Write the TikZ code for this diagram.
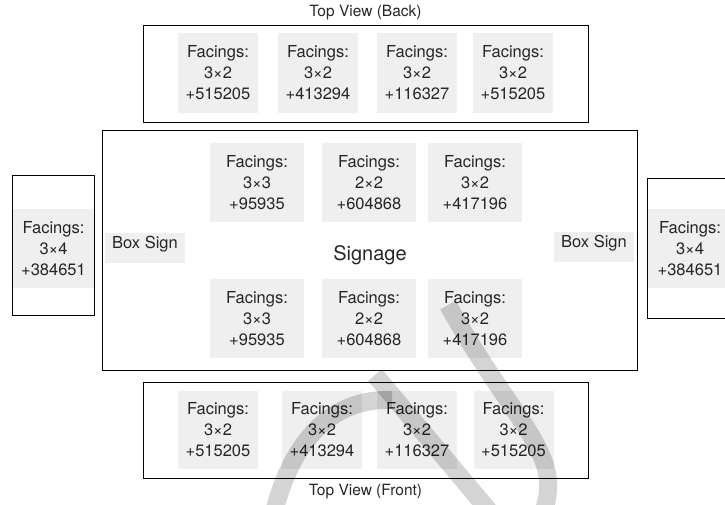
\documentclass[tikz,border=0pt]{standalone}
\usepackage{fontspec}
\setmainfont{TeX Gyre Heros}
\usepackage{xcolor}
\usetikzlibrary{positioning}
\definecolor{facefill}{HTML}{EFEFEF}
\definecolor{inkgray}{HTML}{262626}

\begin{document}
\begin{tikzpicture}[
  x=1pt,y=-1pt,
  every node/.style={font=\fontsize{16.5}{21}\selectfont,align=center,text=inkgray},
  panel/.style={draw=black,line width=0.9pt,inner sep=0pt},
  facing/.style={fill=facefill,minimum width=80pt,minimum height=80pt,inner sep=0pt},
  signbox/.style={fill=facefill,minimum width=80pt,minimum height=30pt,inner sep=0pt,text depth=12pt},
  caption/.style={font=\fontsize{15.5}{17}\selectfont},
  swoosh/.style={line width=18pt,black,opacity=0.17}
]
\path[use as bounding box] (0,0) rectangle (725,505);
\clip (0,0) rectangle (725,505);

% shelves
\node[panel,minimum width=445pt,minimum height=97pt] (back) at (365.5,73.5) {};
\node[panel,minimum width=445pt,minimum height=96pt] (front) at (365.5,430) {};
\node[panel,minimum width=535pt,minimum height=240pt] (table) at (369.5,250) {};
\node[panel,minimum width=82pt,minimum height=140pt] (lend) at (53,245) {};
\node[panel,minimum width=86pt,minimum height=140pt] (rend) at (690,248) {};
\node[caption,above=1pt of back] (backlbl) {Top View (Back)};
\node[caption,below=2pt of front] (frontlbl) {Top View (Front)};

% back row
\node[facing] (b1) at (218,73) {Facings:\\3×2\\+515205};
\node[facing] (b2) at (318,73) {Facings:\\3×2\\+413294};
\node[facing] (b3) at (417,73) {Facings:\\3×2\\+116327};
\node[facing] (b4) at (513,73) {Facings:\\3×2\\+515205};

% table
\node[facing,minimum width=94pt,minimum height=79pt] (t1) at (257,182.5) {Facings:\\3×3\\+95935};
\node[facing,minimum width=94pt,minimum height=79pt] (t2) at (369,182.5) {Facings:\\2×2\\+604868};
\node[facing,minimum width=94pt,minimum height=79pt] (t3) at (475,182.5) {Facings:\\3×2\\+417196};
\node[facing,minimum width=94pt,minimum height=79pt] (t4) at (257,318.5) {Facings:\\3×3\\+95935};
\node[facing,minimum width=94pt,minimum height=79pt] (t5) at (369,318.5) {Facings:\\2×2\\+604868};
\node[facing,minimum width=94pt,minimum height=79pt] (t6) at (475,318.5) {Facings:\\3×2\\+417196};
\node[font=\fontsize{20}{22}\selectfont] (signage) at (370,255) {Signage};
\node[signbox] (lsign) at (145,248) {Box Sign};
\node[signbox] (rsign) at (594,247) {Box Sign};

% end caps
\node[facing,minimum width=81pt,minimum height=79pt] (l1) at (53.5,248.5) {Facings:\\3×4\\+384651};
\node[facing,minimum width=84pt,minimum height=79pt] (r1) at (690,248.5) {Facings:\\3×4\\+384651};

% front row
\node[facing,minimum height=78pt] (f1) at (218,430) {Facings:\\3×2\\+515205};
\node[facing,minimum height=78pt] (f2) at (322,430) {Facings:\\3×2\\+413294};
\node[facing,minimum height=78pt] (f3) at (417,430) {Facings:\\3×2\\+116327};
\node[facing,minimum height=78pt] (f4) at (513.5,430) {Facings:\\3×2\\+515205};

% watermark strokes
\draw[swoosh] (375,375) -- (490,512);
\draw[swoosh] (274,512) .. controls (295,430) and (340,398) .. (392,400);
\draw[swoosh] (448,305) .. controls (515,425) and (565,455) .. (543,512);
\end{tikzpicture}
\end{document}
